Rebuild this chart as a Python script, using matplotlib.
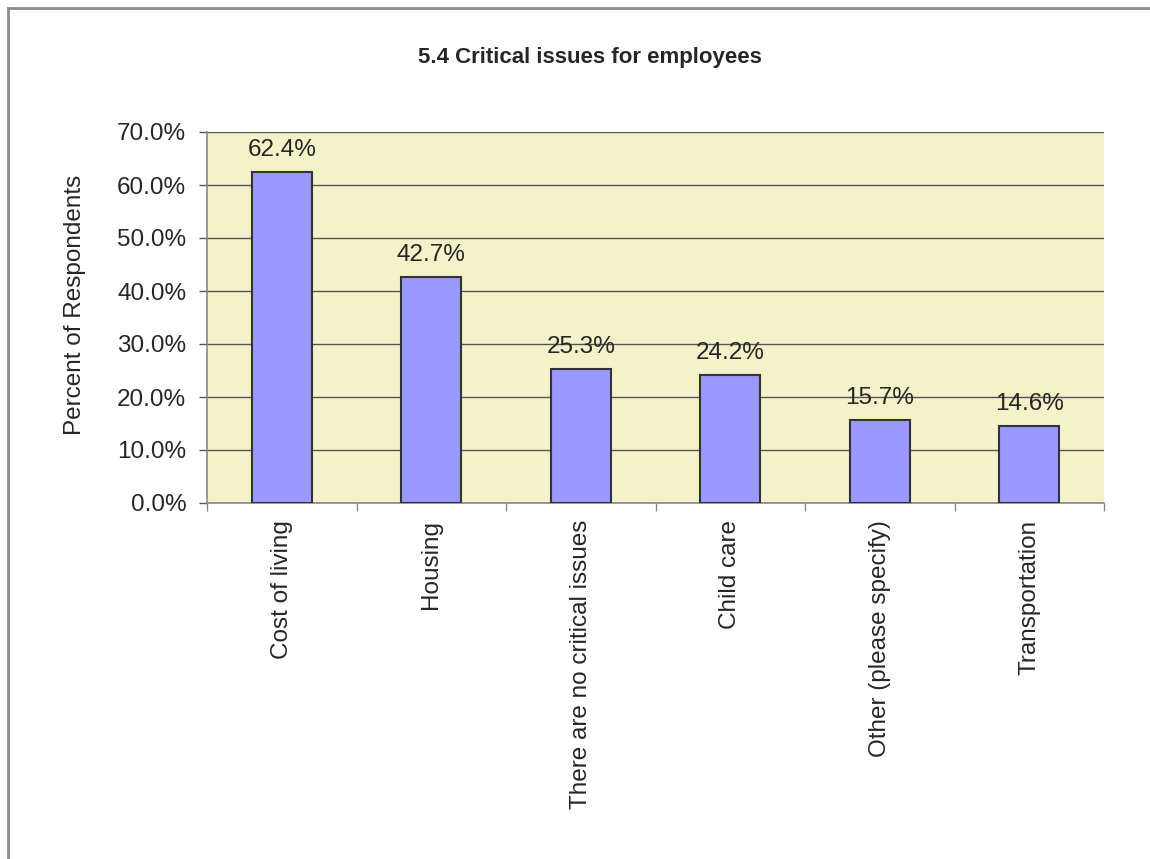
import matplotlib
matplotlib.use("Agg")
import matplotlib.pyplot as plt
from matplotlib.lines import Line2D
import numpy as np

categories = ["Cost of living", "Housing", "There are no critical issues",
              "Child care", "Other (please specify)", "Transportation"]
percents = [62.4, 42.7, 25.3, 24.2, 15.7, 14.6]
y_ticks = [0, 10, 20, 30, 40, 50, 60, 70]

plt.rcParams["font.family"] = ["Liberation Sans", "DejaVu Sans"]
text_color = "#262626"
fs = 17.5

W, H = 1150, 859
fig = plt.figure(figsize=(W / 100, H / 100), dpi=100)
fig.patch.set_facecolor("white")

# plot area in pixel bounds
left, right, top, bottom = 207, 1104, 132, 503
ax = fig.add_axes([left / W, 1 - bottom / H, (right - left) / W, (bottom - top) / H])
ax.set_facecolor("#F4F2C8")

x = np.arange(len(categories))
ax.bar(x, percents, width=0.4, color="#9999FF", edgecolor="#333333",
       linewidth=1.5, zorder=3)

for xi, v in zip(x, percents):
    ax.annotate(f"{v:.1f}%", (xi, v), xytext=(0, 8), textcoords="offset points",
                ha="center", va="bottom", fontsize=fs, color=text_color)

ax.set_xlim(-0.5, len(categories) - 0.5)
ax.set_ylim(0, 70)
ax.set_yticks(y_ticks)
ax.set_yticklabels([f"{t:.1f}%" for t in y_ticks], fontsize=fs, color=text_color)
ax.yaxis.grid(True, color="#555555", linewidth=1.0, zorder=1)
ax.set_axisbelow(True)

# category labels at centers, tick marks at boundaries
ax.set_xticks(x)
ax.set_xticklabels(categories, rotation=90, fontsize=fs, color=text_color,
                   va="top", ha="center")
ax.set_xticks(np.arange(-0.5, len(categories)), minor=True)
ax.tick_params(axis="x", which="major", length=0, pad=12)
ax.tick_params(axis="x", which="minor", length=6, color="#888888", width=1)
ax.tick_params(axis="y", length=6, color="#555555", width=1, pad=9)

for side in ["top", "right"]:
    ax.spines[side].set_visible(False)
ax.spines["left"].set_color("#888888")
ax.spines["bottom"].set_color("#888888")
ax.spines["left"].set_linewidth(1.2)
ax.spines["bottom"].set_linewidth(1.2)

fig.text(590 / W, 1 - 57 / H, "5.4 Critical issues for employees",
         ha="center", va="center", fontsize=16, fontweight="bold", color=text_color)
fig.text(75 / W, 1 - 305 / H, "Percent of Respondents", rotation=90,
         ha="center", va="center", fontsize=fs, color=text_color)

# chart frame: only the left and top edges fall inside the canvas
fig.add_artist(Line2D([7.5 / W, 7.5 / W], [0, 1 - 7.5 / H], color="#8c8c8c",
                      linewidth=2, transform=fig.transFigure))
fig.add_artist(Line2D([7.5 / W, 1], [1 - 7.5 / H, 1 - 7.5 / H], color="#8c8c8c",
                      linewidth=2, transform=fig.transFigure))

fig.savefig("out.png", dpi=100, facecolor="white")
